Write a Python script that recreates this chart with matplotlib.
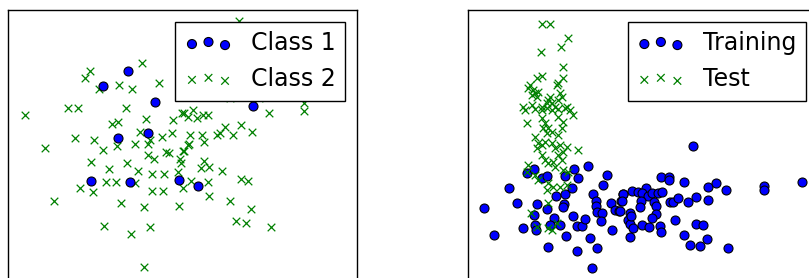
import numpy as np
import matplotlib
matplotlib.use("Agg")
import matplotlib.pyplot as plt

# values (image units, y grows downwards)

# left panel: two classes
class1_x = [128, 102.7, 154.7, 148.3, 118.3, 252.7, 91, 130, 179, 198.3]
class1_y = [70.7, 86, 101.7, 133.3, 138.3, 106, 181, 182.3, 180, 185.5]

class2_x = [141.7, 90, 85, 98.7, 119.3, 131.7, 159, 25, 68.3, 78, 125.7, 145.7,
            173.3, 181.7, 188.3, 193.3, 196.7, 203.3, 208.3, 184, 111.7, 118.3,
            140, 162.3, 171.7, 190, 201.7, 217.3, 220, 225, 233.3, 241, 251.7,
            75, 94, 45, 103.3, 116.7, 135, 148.3, 150, 188.3, 183.3, 189.3, 204,
            184, 165.7, 169.3, 148.3, 154, 180, 181, 90.7, 126.7, 109.3, 138,
            152.3, 164, 178.3, 204, 200.7, 209, 221.7, 241, 247.7, 105.7, 115.7,
            135, 190.7, 182.7, 207.7, 80, 92.7, 151.7, 162.7, 209, 54, 120.7,
            144.3, 179.3, 230, 251, 104, 149.7, 130.7, 235.7, 245.7, 271, 144.3,
            269, 304, 304, 340, 239.3, 230, 259.3]
class2_y = [63.3, 70.7, 78.3, 89.3, 85.3, 89, 82.7, 115, 108.3, 108.3, 107.7, 119.3,
            120, 112.7, 116.7, 110, 118.3, 115, 115, 113.3, 124.3, 122.3,
            131.7, 137, 133, 135, 135, 135, 133.3, 126.7, 135, 125, 131.7,
            138, 140, 148.3, 150, 146, 144, 144, 140, 145, 150.7, 144, 142.3,
            150.7, 151.7, 153.3, 155, 159, 159.3, 163.3, 161.7, 163.3, 169, 170.7,
            174, 174, 171.7, 160.7, 168.3, 167.3, 171.3, 179, 180.7, 181.7, 181.7,
            183.3, 180.7, 187.5, 182.3, 188.3, 192.3, 190.7, 191, 195.7, 200.7, 203,
            207.3, 205.7, 200.7, 209, 225.7, 226.7, 234.3, 221, 222.7, 226.7, 266.7,
            113.3, 103.3, 111, 97.3, 20.7, 98.3, 98.3]

# right panel: training vs test
train_x = [484.3, 494, 509.3, 516.7, 522.7, 526.7, 534, 537.3, 534, 535, 536,
           541.7, 546.7, 547.3, 548, 554.3, 550, 560, 555.7, 565, 564, 562.7,
           566, 565, 574, 578.3, 572, 572.7, 576.7, 582.3, 585, 576.7, 588.3,
           593.3, 595.7, 595.7, 596.7, 601.7, 601, 590, 597, 592, 603.3, 607.3,
           610.7, 615, 619, 611.7, 620.7, 623.3, 631.7, 630, 628.3, 630, 630,
           692.7, 660.7, 669, 669, 683.7, 708.3, 716, 726.3, 764, 764, 802.3,
           622.7, 638.3, 645.7, 641.7, 647.7, 652.3, 658.3, 661.7, 621.7, 640.7,
           640, 654, 656, 670, 672.7, 678.3, 687.7, 696, 707.7, 620, 630.7,
           632.7, 656, 652.3, 641.7, 649.3, 660, 661, 675.3, 695.7, 703, 684.3,
           707, 689.7, 700.3, 728]
train_y = [208.3, 235, 188.3, 203.3, 228.3, 172.7, 169.3, 204, 215, 225, 230,
           178.3, 176, 209, 247.3, 218.3, 225, 225, 196, 194.3, 204, 207.3,
           236, 176, 169.3, 178.3, 188.3, 216, 225.7, 226, 219.3, 250.5, 165.7,
           194, 200.7, 206, 211.7, 213.3, 220.7, 238, 247.7, 268, 185, 175,
           202.7, 210, 211, 230, 201, 194, 190.7, 213.3, 220, 224, 237.3,
           145.7, 176.7, 176.7, 180, 182, 187.3, 183.3, 190.3, 186, 190, 182,
           194, 191.7, 188.3, 193.3, 196, 192.7, 192.7, 191.7, 200.7, 200.7,
           206.7, 201.7, 206, 201.7, 201.7, 198.3, 201.7, 196.7, 200, 211, 216,
           227.7, 214, 218.3, 225, 227.3, 225.7, 232.3, 220, 224, 225, 235,
           239, 245, 246, 247.7]

test_x = [541.7, 550, 568.3, 561, 541, 563.3, 542.3, 536.7, 563.3, 558.3, 556.7,
          530, 528.3, 533.3, 535, 538.3, 531.7, 536.7, 560, 561.7, 558.3, 550,
          548.3, 546.7, 551.7, 523.3, 531.7, 541.7, 555, 566.7, 525, 535, 541.7,
          546.7, 551.7, 558.3, 565, 570, 573.3, 526.7, 541.7, 545, 543.3, 548.3,
          546.7, 551.7, 558.3, 563.3, 561.7, 558.3, 535, 538.3, 536.7, 541.7,
          545, 551.7, 555, 560, 563.3, 558.3, 566.7, 577.7, 541.7, 545, 548.3,
          553.3, 555, 561.7, 528.3, 526.7, 563.3, 568.3, 538.3, 548.3, 553.3,
          560, 566.7, 535, 546.7, 548.3, 531, 536.7, 548.3, 551.7, 556.7]
test_y = [24, 24, 37.7, 46.7, 51.7, 66.7, 75.7, 78.3, 78.3, 83.3, 85,
          85, 88.3, 90, 93.3, 91.7, 95, 96.7, 93.3, 96.7, 100, 96.7,
          100, 103.3, 103.3, 106.7, 105, 106.7, 106.7, 106.7, 110, 109, 110,
          108, 110, 109, 108, 110, 115, 123.3, 118.3, 123.3, 128.3, 128.3,
          133.3, 131.7, 116.7, 121.7, 128.3, 135, 136.7, 143.3, 148.3, 145,
          141.7, 143.3, 148.3, 145, 151.7, 155, 146.7, 150, 155, 160, 163.3,
          161.7, 166.7, 160, 165, 171.7, 170, 171.7, 180, 183.3, 186.7,
          186.7, 185, 175, 190, 203.3, 212.7, 226.7, 228.3, 230, 223.3]

plt.style.use("classic")

W, H = 809, 278
fig = plt.figure(figsize=(W / 100, H / 100), dpi=100)
fig.patch.set_facecolor("white")

ax1 = fig.add_axes([8 / W, (H - 330) / H, 349 / W, 320 / H])
ax2 = fig.add_axes([468 / W, (H - 330) / H, 350 / W, 320 / H])

ax1.scatter(class1_x, class1_y, s=42, c="b", marker="o", edgecolors="k",
            linewidths=0.8, label="Class 1", zorder=3)
ax1.scatter(class2_x, class2_y, s=30, c="g", marker="x", linewidths=0.9,
            label="Class 2", zorder=2)
ax1.set_xlim(8, 357)

ax2.scatter(train_x, train_y, s=42, c="b", marker="o", edgecolors="k",
            linewidths=0.8, label="Training", zorder=2)
ax2.scatter(test_x, test_y, s=30, c="g", marker="x", linewidths=0.9,
            label="Test", zorder=3)
ax2.set_xlim(468, 818)

for ax in (ax1, ax2):
    ax.set_ylim(330, 10)
    ax.set_xticks([])
    ax.set_yticks([])
    ax.legend(loc="upper right", fontsize=17, scatterpoints=3,
              scatteryoffsets=[0.375, 0.5, 0.3125])

fig.savefig("out.png", dpi=100, facecolor="white")
